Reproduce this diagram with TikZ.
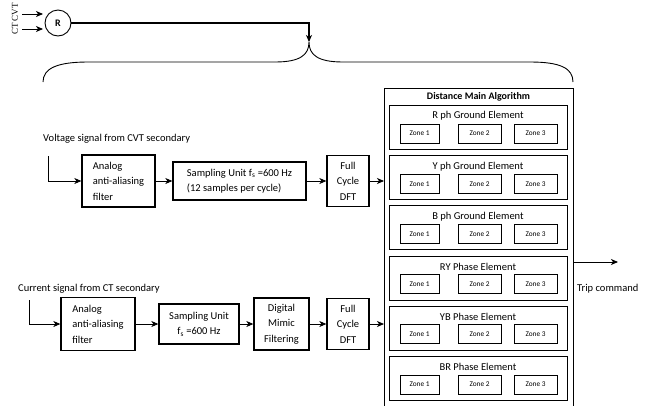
\documentclass[tikz,border=0pt]{standalone}
\usepackage{fontspec}
\setmainfont{Carlito}
\newfontfamily\ctvtfont{Liberation Serif}
\usetikzlibrary{arrows.meta,positioning}

\begin{document}
\begin{tikzpicture}[x=1pt,y=-1pt,>={Stealth[length=7pt,width=6pt,inset=2pt]},font=\fontsize{10.5}{15.5}\selectfont]
  \tikzstyle{block}=[rectangle,draw,line width=1.3pt,inner sep=2pt,align=center]
  \tikzstyle{lblock}=[block,align=left]
  \tikzstyle{element}=[rectangle,draw,line width=0.8pt,minimum width=178pt,minimum height=44pt]
  \tikzstyle{zone}=[rectangle,draw,line width=0.8pt,minimum height=19pt,
                    inner sep=0pt,font=\fontsize{7.3}{8}\selectfont]
  \tikzstyle{flow}=[->,line width=0.9pt]
  \tikzstyle{caption}=[anchor=west,inner sep=0pt]

  \useasboundingbox (0,0) rectangle (645,405);

  % relay and its inputs
  \node [circle,draw,line width=0.9pt,minimum size=26pt,inner sep=0pt,font=\bfseries] (relay) at (58,23) {R};
  \node [rotate=90,font=\ctvtfont\fontsize{9}{10}\selectfont] (ctcvt) at (15,19) {CT CVT};
  \coordinate (cvtin) at (22,14);
  \coordinate (cvtend) at (43,14);
  \coordinate (ctin) at (22,29);
  \coordinate (ctend) at (43,29);
  \draw[flow] (cvtin) -- (cvtend);
  \draw[flow] (ctin) -- (ctend);

  \coordinate (tip) at (309,42);
  \draw[flow,line width=1.1pt] (relay) -| (tip);
  \draw[line width=0.9pt] (43,82) .. controls (43,68) and (58,62) .. (88,62) -- (275,62)
    .. controls (300,62) and (309,55) .. (tip)
    .. controls (309,55) and (318,62) .. (343,62) -- (530,62)
    .. controls (560,62) and (573,68) .. (573,82);

  % voltage path
  \node [caption] (vlabel) at (43,139) {Voltage signal from CVT secondary};
  \coordinate (vin) at (48,156);
  \node [lblock,minimum width=73pt,minimum height=52pt] (vfilter) at (118.5,181) {Analog\\anti-aliasing\\filter};
  \node [lblock,minimum width=133pt,minimum height=38pt] (vsample) at (239.5,181) {Sampling Unit f\textsubscript{s} =600 Hz\\(12 samples per cycle)};
  \node [block,minimum width=42pt,minimum height=51pt] (vdft) at (348,181) {Full\\Cycle\\DFT};

  % current path
  \node [caption] (clabel) at (18,289) {Current signal from CT secondary};
  \coordinate (cin) at (29,300);
  \node [lblock,minimum width=74pt,minimum height=53pt] (cfilter) at (98,324) {Analog\\anti-aliasing\\filter};
  \node [block,minimum width=80pt,minimum height=40pt] (csample) at (199,324) {Sampling Unit\\f\textsubscript{s} =600 Hz};
  \node [block,minimum width=55pt,minimum height=52pt] (cmimic) at (281.5,324) {Digital\\Mimic\\Filtering};
  \node [block,minimum width=42pt,minimum height=51pt] (cdft) at (348,324) {Full\\Cycle\\DFT};

  % main algorithm
  \node [draw,line width=1.4pt,minimum width=189pt,minimum height=340pt,anchor=north west] (alg) at (384,88) {};
  \node [font=\bfseries\fontsize{10}{12}\selectfont] (algtitle) at (478.5,97) {Distance Main Algorithm};
  \foreach \el/\txt [count=\i from 0] in {rg/R ph Ground Element,yg/Y ph Ground Element,
      bg/B ph Ground Element,ry/RY Phase Element,yb/YB Phase Element,br/BR Phase Element}
  {
    \node [element,anchor=north] (\el) at ({478},{105+50.2*\i}) {};
    \node (\el-t) at ([yshift=-11pt]\el.north) {\txt};
    \node [zone,minimum width=39pt] (\el-z1) at ([xshift=-58.5pt,yshift=-28.5pt]\el.north) {Zone 1};
    \node [zone,minimum width=43pt] (\el-z2) at ([xshift=1.5pt,yshift=-28.5pt]\el.north) {Zone 2};
    \node [zone,minimum width=43pt] (\el-z3) at ([xshift=57.5pt,yshift=-28.5pt]\el.north) {Zone 3};
  }

  \coordinate (trip) at (618,262);
  \node [caption] (triptxt) at (577,289) {Trip command};

  % connectors
  \draw[flow] (vin) |- (vfilter);
  \draw[flow] (vfilter) -- (vsample);
  \draw[flow] (vsample) -- (vdft);
  \draw[flow] (vdft) -- (vdft -| alg.west);
  \draw[flow] (cin) |- (cfilter);
  \draw[flow] (cfilter) -- (csample);
  \draw[flow] (csample) -- (cmimic);
  \draw[flow] (cmimic) -- (cdft);
  \draw[flow] (cdft) -- (cdft -| alg.west);
  \draw[flow] (trip -| alg.east) -- (trip);
\end{tikzpicture}
\end{document}
